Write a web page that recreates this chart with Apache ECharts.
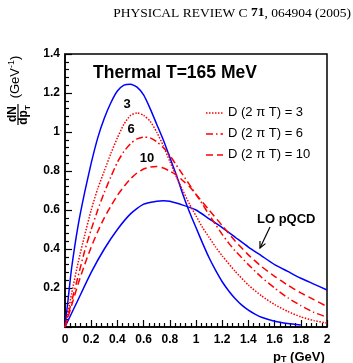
<!DOCTYPE html>
<html><head><meta charset="utf-8">
<script src="https://cdn.jsdelivr.net/npm/echarts@6/dist/echarts.min.js"></script>
<style>html,body{margin:0;padding:0;background:#fff}#c{width:353px;height:363px}</style>
</head><body><div id="c"></div>
<script>
// ---- data ----
const xTicks = [0,0.2,0.4,0.6,0.8,1,1.2,1.4,1.6,1.8,2];
const yTicks = [0.2,0.4,0.6,0.8,1,1.2,1.4];

const thermalPt = [0,0.025,0.05,0.1,0.15,0.2,0.25,0.3,0.35,0.4,0.45,0.5,0.55,0.6,0.65,0.7,0.75,0.8,0.85,0.9,0.95,1.0,1.05,1.1,1.15,1.2,1.25,1.3,1.35,1.4,1.45,1.5,1.6,1.7,1.8];
const thermalVal = [0,0.15,0.30,0.52,0.69,0.84,0.97,1.07,1.15,1.21,1.24,1.245,1.23,1.19,1.12,1.04,0.96,0.87,0.78,0.68,0.59,0.51,0.43,0.355,0.29,0.232,0.185,0.145,0.112,0.086,0.066,0.05,0.03,0.018,0.01];

const pqcdPt = [0,0.1,0.2,0.3,0.4,0.5,0.6,0.7,0.75,0.8,0.9,1.0,1.1,1.2,1.3,1.4,1.5,1.6,1.7,1.8,1.9,2.0];
const pqcdVal = [0,0.14,0.28,0.40,0.50,0.58,0.63,0.645,0.648,0.645,0.625,0.60,0.555,0.51,0.46,0.41,0.365,0.32,0.285,0.25,0.22,0.19];

const d3Pt = [0,0.05,0.1,0.15,0.2,0.25,0.3,0.35,0.4,0.45,0.5,0.55,0.6,0.65,0.7,0.75,0.8,0.85,0.9,0.95,1.0,1.05,1.1,1.15,1.2,1.3,1.4,1.5,1.6,1.7,1.8,1.9,2.0];
const d3Val = [0,0.17,0.33,0.47,0.60,0.71,0.80,0.89,0.97,1.04,1.085,1.098,1.085,1.055,1.0,0.93,0.85,0.77,0.70,0.63,0.57,0.51,0.46,0.41,0.365,0.285,0.215,0.16,0.115,0.08,0.052,0.033,0.02];

const d6Pt = [0,0.05,0.1,0.15,0.2,0.25,0.3,0.35,0.4,0.45,0.5,0.55,0.6,0.65,0.7,0.75,0.8,0.85,0.9,0.95,1.0,1.05,1.1,1.15,1.2,1.25,1.3,1.4,1.5,1.6,1.7,1.8,1.9,2.0];
const d6Val = [0,0.13,0.26,0.39,0.50,0.60,0.69,0.77,0.845,0.90,0.94,0.965,0.974,0.97,0.95,0.92,0.88,0.83,0.78,0.73,0.68,0.63,0.575,0.525,0.475,0.43,0.39,0.32,0.255,0.20,0.15,0.11,0.075,0.05];

const d10Pt = [0,0.05,0.1,0.15,0.2,0.25,0.3,0.35,0.4,0.45,0.5,0.55,0.6,0.65,0.7,0.75,0.8,0.85,0.9,0.95,1.0,1.1,1.2,1.3,1.4,1.5,1.6,1.7,1.8,1.9,2.0];
const d10Val = [0,0.11,0.22,0.32,0.41,0.49,0.56,0.62,0.675,0.72,0.76,0.79,0.81,0.82,0.823,0.815,0.80,0.78,0.75,0.72,0.68,0.60,0.52,0.44,0.37,0.31,0.26,0.215,0.175,0.14,0.105];

const legendNames = ['D (2 \u03c0 T) = 3','D (2 \u03c0 T) = 6','D (2 \u03c0 T) = 10'];

function pairs(xs, ys){ return xs.map((x,i)=>[x, ys[i]]); }

const chart = echarts.init(document.getElementById('c'), null, {renderer:'canvas'});
const F = 'Liberation Sans, Arial, Helvetica, sans-serif';
const BLUE = '#0000ff', RED = '#ff0000';

const G = {left:65, right:26, top:54, bottom:36};

function lineSeries(name, data, color, type){
  return {name, type:'line', data, smooth:0.2, showSymbol:false, symbol:'none',
    lineStyle:{color, width:1.5, type}, itemStyle:{color}, animation:false, z:3};
}

// arrow geometry
const tail=[270,227], tip=[260,248];
const dx=tail[0]-tip[0], dy=tail[1]-tip[1], L=Math.hypot(dx,dy);
const ux=dx/L, uy=dy/L, ah=7, ang=Math.PI/7;
function rot(x,y,a){return [x*Math.cos(a)-y*Math.sin(a), x*Math.sin(a)+y*Math.cos(a)];}
const h1=rot(ux,uy,ang), h2=rot(ux,uy,-ang);

chart.setOption({
  animation:false,
  grid:{left:G.left, right:G.right, top:G.top, bottom:G.bottom, show:true, borderColor:'#000', borderWidth:1.5, backgroundColor:'transparent'},
  xAxis:{type:'value', min:0, max:2, interval:0.2,
    axisLine:{show:true, lineStyle:{color:'#000', width:1.5}},
    axisTick:{show:true, inside:true, length:7, lineStyle:{color:'#000', width:1.2}},
    minorTick:{show:true, splitNumber:5, length:4, lineStyle:{color:'#000', width:1.2}},
    splitLine:{show:false},
    axisLabel:{color:'#000', fontFamily:F, fontWeight:'bold', fontSize:12, margin:7,
      customValues:xTicks, formatter:v=>String(+v.toFixed(1))}
  },
  yAxis:{type:'value', min:0, max:1.4, interval:0.2,
    axisLine:{show:true, lineStyle:{color:'#000', width:1.5}},
    axisTick:{show:true, inside:true, length:7, lineStyle:{color:'#000', width:1.2}},
    minorTick:{show:true, splitNumber:5, length:4, lineStyle:{color:'#000', width:1.2}},
    splitLine:{show:false},
    axisLabel:{color:'#000', fontFamily:F, fontWeight:'bold', fontSize:12, margin:5,
      customValues:yTicks, formatter:v=>String(+v.toFixed(1))}
  },
  series:[
    lineSeries('thermal', pairs(thermalPt, thermalVal), BLUE, 'solid'),
    lineSeries('LO pQCD', pairs(pqcdPt, pqcdVal), BLUE, 'solid'),
    lineSeries(legendNames[0], pairs(d3Pt, d3Val), RED, [1.5,1.5]),
    lineSeries(legendNames[1], pairs(d6Pt, d6Val), RED, [7,3,1.5,3]),
    lineSeries(legendNames[2], pairs(d10Pt, d10Val), RED, [7,4])
  ],
  graphic:[
    {type:'text', right:2, top:6, style:{rich:{n:{fontFamily:'Liberation Serif, Times New Roman, serif', fontSize:13.5, fill:'#000'}, b:{fontFamily:'Liberation Serif, Times New Roman, serif', fontSize:13.5, fontWeight:'bold', fill:'#000'}}, text:'{n|PHYSICAL REVIEW C }{b|71}{n|, 064904 (2005)}'}},
    {type:'text', left:93, top:64, style:{text:'Thermal T=165 MeV', font:'bold 17.5px '+F, fill:'#000'}},
    // legend
    {type:'line', shape:{x1:206,y1:113,x2:223,y2:113}, style:{stroke:RED, lineWidth:1.5, lineDash:[1.5,1.5]}},
    {type:'line', shape:{x1:206,y1:134,x2:223,y2:134}, style:{stroke:RED, lineWidth:1.5, lineDash:[7,3,1.5,3]}},
    {type:'line', shape:{x1:206,y1:155,x2:223,y2:155}, style:{stroke:RED, lineWidth:1.5, lineDash:[7,4]}},
    {type:'text', left:228, top:106, style:{text:legendNames[0], font:'13px '+F, fill:'#000'}},
    {type:'text', left:228, top:127, style:{text:legendNames[1], font:'13px '+F, fill:'#000'}},
    {type:'text', left:228, top:148, style:{text:legendNames[2], font:'13px '+F, fill:'#000'}},
    // curve labels
    {type:'text', x:127, y:104, style:{text:'3', font:'bold 13px '+F, fill:'#000', align:'center', verticalAlign:'middle'}},
    {type:'text', x:131, y:129, style:{text:'6', font:'bold 13px '+F, fill:'#000', align:'center', verticalAlign:'middle'}},
    {type:'text', x:147, y:158, style:{text:'10', font:'bold 13px '+F, fill:'#000', align:'center', verticalAlign:'middle'}},
    {type:'text', x:257, y:219, style:{text:'LO pQCD', font:'bold 13px '+F, fill:'#000', verticalAlign:'middle'}},
    {type:'line', shape:{x1:tail[0],y1:tail[1],x2:tip[0],y2:tip[1]}, style:{stroke:'#000', lineWidth:1.2}},
    {type:'polyline', shape:{points:[[tip[0]+h1[0]*ah, tip[1]+h1[1]*ah],[tip[0],tip[1]],[tip[0]+h2[0]*ah, tip[1]+h2[1]*ah]]}, style:{stroke:'#000', lineWidth:1.2, fill:null}},
    // axis titles
    {type:'text', x:273, y:357, style:{rich:{a:{font:'bold 13px '+F, fill:'#000'}, s:{font:'bold 9px '+F, fill:'#000', verticalAlign:'bottom', padding:[6,0,0,0]}}, text:'{a|p}{s|T}{a| (GeV)}', verticalAlign:'middle'}},
    {type:'text', x:13, y:114, rotation:Math.PI/2, style:{text:'dN', font:'bold 12px '+F, fill:'#000', align:'center', verticalAlign:'middle'}},
    {type:'line', shape:{x1:18,y1:104,x2:18,y2:125}, style:{stroke:'#000', lineWidth:1.2}},
    {type:'text', x:24, y:115, rotation:Math.PI/2, style:{rich:{a:{font:'bold 12px '+F, fill:'#000'}, s:{font:'bold 8px '+F, fill:'#000', padding:[7,0,0,0]}}, text:'{a|dp}{s|T}', align:'center', verticalAlign:'middle'}},
    {type:'text', x:15, y:77, rotation:Math.PI/2, style:{rich:{a:{font:'13px '+F, fill:'#000'}, s:{font:'9px '+F, fill:'#000', padding:[0,0,7,0]}}, text:'{a|(GeV}{s|-1}{a|)}', align:'center', verticalAlign:'middle'}}
  ]
});
</script></body></html>
